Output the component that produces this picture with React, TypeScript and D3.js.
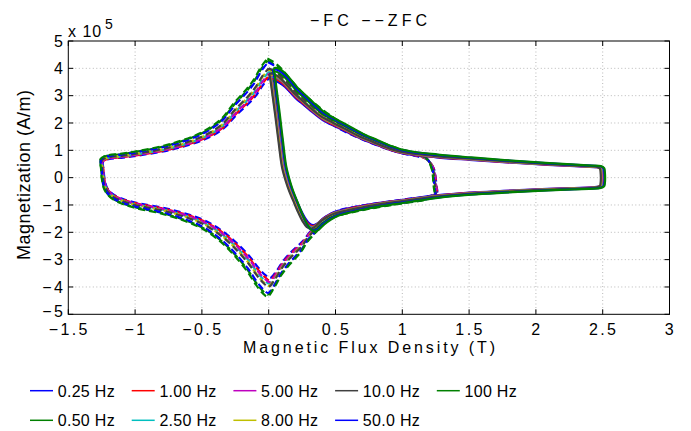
import React from "react";
import * as d3 from "d3";

// ---- data ----
const freqLabels = ["0.25 Hz", "0.50 Hz", "1.00 Hz", "2.50 Hz", "5.00 Hz", "8.00 Hz", "10.0 Hz", "50.0 Hz", "100 Hz"];
const seriesColors = ["#0000ff", "#008000", "#ff0000", "#00bfbf", "#bf00bf", "#bfbf00", "#404040", "#0000ff", "#008000"];
// per-series magnetization factor and field offset read from the spread of the bundles
const fcFactor = [0.93, 1.02, 0.95, 0.97, 0.98, 0.99, 1.0, 1.04, 1.055];
const fcShift = [0.004, 0.008, 0.0, -0.004, -0.008, -0.012, -0.016, 0.012, 0.016];
const zfcFactor = [0.92, 1.07, 0.94, 0.97, 0.955, 0.99, 1.0, 1.055, 1.09];
const zfcShift = [0.01, -0.008, 0.008, 0.004, 0.006, 0.0, 0.0, -0.005, -0.01];

// FC loop (solid): B [T], M [1e5 A/m]
const fcLoop: [number, number][] = [
  [0.02, 3.8], [0.05, 3.8], [0.1, 3.65], [0.15, 3.4], [0.2, 3.12], [0.25, 2.9], [0.3, 2.68],
  [0.4, 2.27], [0.5, 2.0], [0.6, 1.75], [0.7, 1.5], [0.8, 1.3], [0.9, 1.1], [1.0, 0.95],
  [1.25, 0.8], [1.5, 0.7], [1.75, 0.61], [2.0, 0.53], [2.25, 0.46], [2.4, 0.42], [2.47, 0.4],
  [2.495, 0.33], [2.5, 0.2], [2.5, -0.2], [2.495, -0.3], [2.47, -0.355],
  [2.25, -0.41], [2.0, -0.46], [1.75, -0.52], [1.5, -0.59], [1.25, -0.7], [1.0, -0.87],
  [0.85, -0.97], [0.7, -1.1], [0.6, -1.2], [0.5, -1.33], [0.45, -1.45], [0.4, -1.62],
  [0.36, -1.8], [0.33, -1.87], [0.3, -1.8], [0.27, -1.6], [0.23, -1.2], [0.2, -0.85],
  [0.17, -0.5], [0.145, -0.15], [0.115, 0.4], [0.09, 1.3], [0.067, 2.2], [0.045, 3.0],
  [0.028, 3.6], [0.02, 3.8],
];

// ZFC loop (dashed)
const zfcLoop: [number, number][] = [
  [0.0, 4.0], [0.04, 3.9], [0.1, 3.68], [0.2, 3.15], [0.3, 2.7], [0.5, 2.0], [0.7, 1.5],
  [0.9, 1.1], [1.0, 0.95], [1.1, 0.85], [1.17, 0.74], [1.2, 0.6], [1.23, 0.3], [1.24, 0.0],
  [1.245, -0.3], [1.25, -0.6], [1.2, -0.72], [1.0, -0.87], [0.7, -1.1], [0.5, -1.33],
  [0.4, -1.62], [0.35, -1.9], [0.3, -2.15], [0.25, -2.5], [0.2, -2.75], [0.15, -3.0],
  [0.1, -3.3], [0.05, -3.7], [0.0, -4.0], [-0.03, -3.9], [-0.06, -3.75], [-0.1, -3.5],
  [-0.15, -3.15], [-0.25, -2.6], [-0.35, -2.15], [-0.5, -1.68], [-0.75, -1.26], [-1.0, -1.0],
  [-1.1, -0.85], [-1.17, -0.68], [-1.22, -0.4], [-1.24, 0.0], [-1.245, 0.3], [-1.25, 0.62],
  [-1.22, 0.72], [-1.1, 0.8], [-1.0, 0.87], [-0.75, 1.1], [-0.5, 1.5], [-0.35, 1.95],
  [-0.25, 2.5], [-0.15, 3.0], [-0.1, 3.3], [-0.05, 3.7], [0.0, 4.0],
];

const xTicks = [-1.5, -1, -0.5, 0, 0.5, 1, 1.5, 2, 2.5, 3];
const xTickLabels = ["\u22121.5", "\u22121", "\u22120.5", "0", "0.5", "1", "1.5", "2", "2.5", "3"];
const yTicks = [-5, -4, -3, -2, -1, 0, 1, 2, 3, 4, 5];
const yTickLabels = ["\u22125", "\u22124", "\u22123", "\u22122", "\u22121", "0", "1", "2", "3", "4", "5"];

const W = 691;
const H = 431;
const FONT = "'Liberation Sans', Arial, Helvetica, sans-serif";

export default function App() {
  const x = d3.scaleLinear().domain([-1.5, 3]).range([68.3, 669.5]);
  const y = d3.scaleLinear().domain([-5, 5]).range([314.3, 41]);
  const [x0, x1] = x.range();
  const [y0, y1] = y.range();

  const mkLine = (k: number, s: number) =>
    d3
      .line<[number, number]>()
      .x((d) => x(d[0] + s))
      .y((d) => y(d[1] * k))
      .curve(d3.curveCatmullRom.alpha(0.5));

  const tickLen = 5;

  return (
    <svg
      width={W}
      height={H}
      style={{ position: "absolute", left: 0, top: 0, display: "block", background: "#fff" }}
      fontFamily={FONT}
    >
      <rect x={0} y={0} width={W} height={H} fill="#fff" />
      {/* grid */}
      <g stroke="#b8b8b8" strokeWidth={1} strokeDasharray="1,2.5">
        {xTicks.slice(1, -1).map((t) => (
          <line key={"gx" + t} x1={x(t)} x2={x(t)} y1={y1} y2={y0} />
        ))}
        {yTicks.slice(1, -1).map((t) => (
          <line key={"gy" + t} x1={x0} x2={x1} y1={y(t)} y2={y(t)} />
        ))}
      </g>
      {/* ZFC dashed */}
      <g fill="none" strokeWidth={2.2} strokeDasharray="7,4">
        {zfcFactor.map((k, i) => (
          <path key={"z" + i} d={mkLine(k, zfcShift[i])(zfcLoop) || ""} stroke={seriesColors[i]} />
        ))}
      </g>
      {/* FC solid */}
      <g fill="none" strokeWidth={2.2} strokeLinejoin="round">
        {fcFactor.map((k, i) => (
          <path key={"f" + i} d={mkLine(k, fcShift[i])(fcLoop) || ""} stroke={seriesColors[i]} />
        ))}
      </g>
      {/* axes box */}
      <rect x={x0} y={y1} width={x1 - x0} height={y0 - y1} fill="none" stroke="#000" strokeWidth={1} />
      <g stroke="#000" strokeWidth={1}>
        {xTicks.map((t) => (
          <g key={"tx" + t}>
            <line x1={x(t)} x2={x(t)} y1={y0} y2={y0 - tickLen} />
            <line x1={x(t)} x2={x(t)} y1={y1} y2={y1 + tickLen} />
          </g>
        ))}
        {yTicks.map((t) => (
          <g key={"ty" + t}>
            <line x1={x0} x2={x0 + tickLen} y1={y(t)} y2={y(t)} />
            <line x1={x1} x2={x1 - tickLen} y1={y(t)} y2={y(t)} />
          </g>
        ))}
      </g>
      {/* tick labels */}
      <g fontSize={16} fill="#000" letterSpacing={2.4}>
        {xTicks.map((t, i) => (
          <text key={"lx" + t} x={x(t) + 1} y={334.5} textAnchor="middle">
            {xTickLabels[i]}
          </text>
        ))}
        {yTicks.map((t, i) => (
          <text key={"ly" + t} x={x0 - 3} y={y(t) + (t === -5 ? 2.3 : 5.7)} textAnchor="end">
            {yTickLabels[i]}
          </text>
        ))}
      </g>
      {/* exponent */}
      <text x={68} y={37} fontSize={16} fill="#000" letterSpacing={1}>
        x 10
      </text>
      <text x={105} y={29} fontSize={14} fill="#000">
        5
      </text>
      {/* title */}
      <text x={368.5} y={26} fontSize={16} textAnchor="middle" fill="#000" textLength={117} lengthAdjust="spacing">
        {"\u2212FC \u2212\u2212ZFC"}
      </text>
      {/* axis labels */}
      <text x={369} y={352.5} fontSize={16} textAnchor="middle" fill="#000" textLength={252} lengthAdjust="spacing">
        Magnetic Flux Density (T)
      </text>
      <text
        transform={`translate(30,175) rotate(-90)`}
        fontSize={18}
        textAnchor="middle"
        fill="#000"
        textLength={170}
        lengthAdjust="spacing"
      >
        Magnetization (A/m)
      </text>
      {/* legend */}
      <g fontSize={16} fill="#000">
        {freqLabels.map((lab, i) => {
          const col = Math.floor(i / 2);
          const row = i % 2;
          const lx = 30 + col * 101.7;
          const ly = row === 0 ? 390.7 : 420.3;
          return (
            <g key={"lg" + i}>
              <line x1={lx} x2={lx + 23} y1={ly} y2={ly} stroke={seriesColors[i]} strokeWidth={1.5} />
              <text x={lx + 27.7} y={ly + 6} letterSpacing={0.3}>
                {lab}
              </text>
            </g>
          );
        })}
      </g>
    </svg>
  );
}
